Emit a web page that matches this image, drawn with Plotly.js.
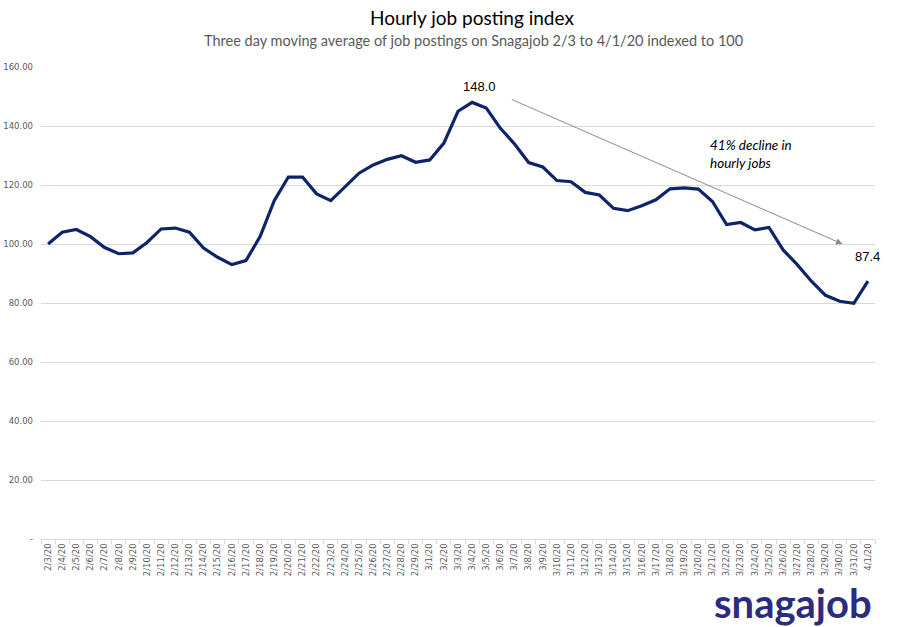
<!DOCTYPE html>
<html>
<head>
<meta charset="utf-8">
<script src="https://cdn.plot.ly/plotly-3.0.1.min.js"></script>
<style>html,body{margin:0;padding:0;background:#fff;}#chart{width:912px;height:627px;}</style>
</head>
<body>
<div id="chart"></div>
<script>
const dates = ["2/3/20","2/4/20","2/5/20","2/6/20","2/7/20","2/8/20","2/9/20","2/10/20","2/11/20","2/12/20","2/13/20","2/14/20","2/15/20","2/16/20","2/17/20","2/18/20","2/19/20","2/20/20","2/21/20","2/22/20","2/23/20","2/24/20","2/25/20","2/26/20","2/27/20","2/28/20","2/29/20","3/1/20","3/2/20","3/3/20","3/4/20","3/5/20","3/6/20","3/7/20","3/8/20","3/9/20","3/10/20","3/11/20","3/12/20","3/13/20","3/14/20","3/15/20","3/16/20","3/17/20","3/18/20","3/19/20","3/20/20","3/21/20","3/22/20","3/23/20","3/24/20","3/25/20","3/26/20","3/27/20","3/28/20","3/29/20","3/30/20","3/31/20","4/1/20"];
const indexValues = [100.0,104.0,104.9,102.5,98.8,96.7,97.0,100.5,105.1,105.4,104.0,98.6,95.5,93.0,94.4,102.5,114.7,122.7,122.7,117.0,114.7,119.2,124.0,126.8,128.7,129.9,127.7,128.5,134.2,145.0,148.0,146.1,139.2,133.9,127.6,126.1,121.5,121.1,117.5,116.6,112.1,111.3,113.0,115.0,118.7,119.0,118.6,114.4,106.6,107.3,104.8,105.6,98.0,93.0,87.4,82.6,80.6,79.9,87.4];
const yTickVals = [0,20,40,60,80,100,120,140,160];
const yTickText = ["-","20.00","40.00","60.00","80.00","100.00","120.00","140.00","160.00"];

const peakIdx = indexValues.indexOf(Math.max(...indexValues.slice(0,40)));
const lastIdx = indexValues.length - 1;

const trace = {
  x: dates, y: indexValues, type: 'scatter', mode: 'lines',
  line: {color: '#0f2468', width: 3.2, shape: 'linear'},
  hoverinfo: 'x+y', cliponaxis: false
};

const layout = {
  width: 912, height: 627,
  margin: {l: 41, r: 37, t: 67, b: 88},
  paper_bgcolor: '#ffffff', plot_bgcolor: '#ffffff',
  showlegend: false,
  xaxis: {
    type: 'category', tickangle: -90,
    range: [-0.5, dates.length - 0.5],
    tickmode: 'array', tickvals: dates, ticktext: dates,
    tickfont: {family: 'DejaVu Sans, sans-serif', size: 8.5, color: '#595959'},
    showgrid: false, showline: true, linecolor: '#d9d9d9', linewidth: 1,
    ticks: 'outside', tickson: 'boundaries', ticklen: 4, tickcolor: '#d9d9d9',
    zeroline: false, fixedrange: true
  },
  yaxis: {
    range: [0, 160], tickvals: yTickVals, ticktext: yTickText,
    tickfont: {family: 'DejaVu Sans, sans-serif', size: 8.5, color: '#595959'},
    showgrid: true, gridcolor: '#d9d9d9', gridwidth: 1,
    zeroline: false, showline: false, ticks: '', ticklabelstandoff: 7, fixedrange: true
  },
  annotations: [
    {text: 'Hourly job posting index', xref: 'paper', yref: 'paper', x: 0.5, y: 1,
     showarrow: false, font: {family: 'Lato, sans-serif', size: 19, color: '#000'}},
    {text: 'Three day moving average of job postings on Snagajob 2/3 to 4/1/20 indexed to 100', xref: 'paper', yref: 'paper', x: 0.5, y: 1,
     showarrow: false, font: {family: 'Lato, sans-serif', size: 14.5, color: '#595959'}},
    {text: indexValues[peakIdx].toFixed(1), x: peakIdx, y: indexValues[peakIdx], xref: 'x', yref: 'y',
     showarrow: false, yshift: 16, xshift: 7, font: {family: 'Liberation Sans, Arial, sans-serif', size: 13, color: '#000'}},
    {text: indexValues[lastIdx].toFixed(1), x: lastIdx, y: indexValues[lastIdx], xref: 'x', yref: 'y',
     showarrow: false, yshift: 25, xshift: 0, font: {family: 'Liberation Sans, Arial, sans-serif', size: 13, color: '#000'}},
    {text: '<i>41% decline in<br>hourly jobs</i>', x: 46.7, y: 130.5, xref: 'x', yref: 'y', xanchor: 'left',
     align: 'left', showarrow: false, font: {family: 'Lato, sans-serif', size: 13.5, color: '#000'}},
    {text: '', x: 56.2, y: 100, xref: 'x', yref: 'y', ax: 32.7, ay: 149.2, axref: 'x', ayref: 'y',
     showarrow: true, arrowhead: 2, arrowsize: 1.3, arrowwidth: 1, arrowcolor: '#8c8c8c', standoff: 0},
    {text: '<b>snagajob</b>', xref: 'paper', yref: 'paper', x: 1, y: 0, xanchor: 'right', yanchor: 'middle',
     showarrow: false, font: {family: 'Lato, sans-serif', size: 40, color: '#2b2d7c', weight: 900}}
  ]
};

const plotW = 912 - 41 - 37, plotH = 627 - 67 - 88;
function px(xp) { return (xp - 41) / plotW; }
function py(yp) { return (627 - 88 - yp) / plotH; }
layout.annotations[0].x = px(472); layout.annotations[0].y = py(18); layout.annotations[0].yanchor = 'middle';
layout.annotations[1].x = px(473); layout.annotations[1].y = py(41); layout.annotations[1].yanchor = 'middle';
layout.annotations[6].x = px(874); layout.annotations[6].y = py(603);

Plotly.newPlot('chart', [trace], layout, {displayModeBar: false, staticPlot: true});
</script>
</body>
</html>
